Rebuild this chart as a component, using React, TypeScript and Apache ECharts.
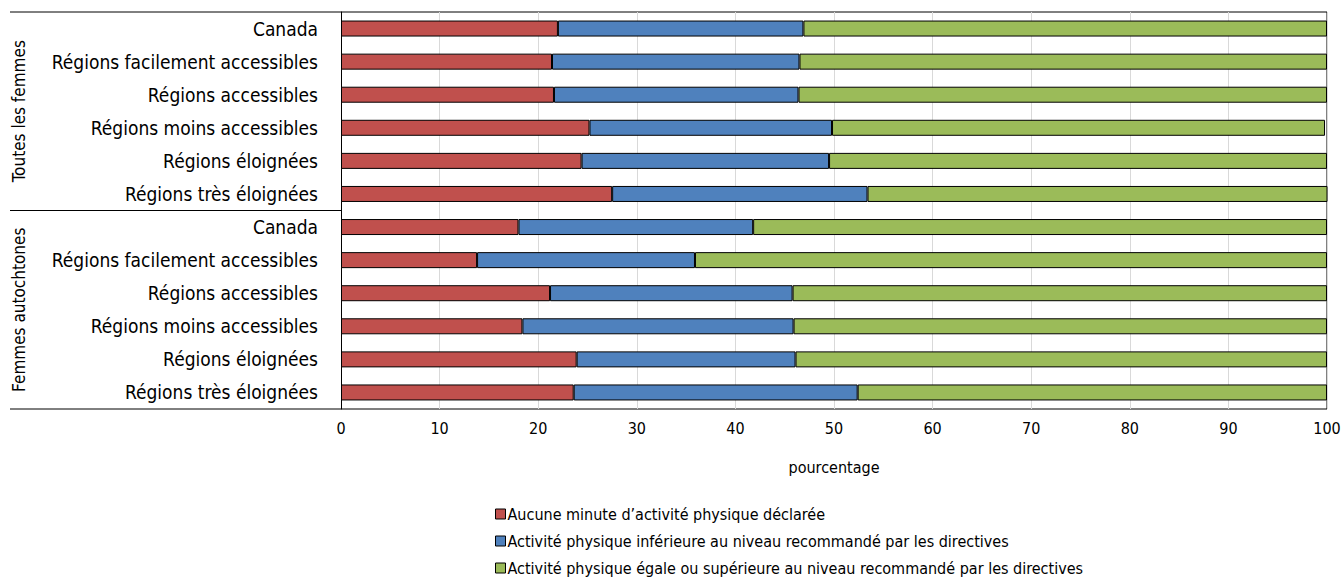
import React, { useEffect, useRef } from "react";
import * as echarts from "echarts";

const categories = [
  "Canada",
  "Régions facilement accessibles",
  "Régions accessibles",
  "Régions moins accessibles",
  "Régions éloignées",
  "Régions très éloignées",
  "Canada",
  "Régions facilement accessibles",
  "Régions accessibles",
  "Régions moins accessibles",
  "Régions éloignées",
  "Régions très éloignées",
];

const groupLabels = ["Toutes les femmes", "Femmes autochtones"];

const seriesNames = [
  "Aucune minute d’activité physique déclarée",
  "Activité physique inférieure au niveau recommandé par les directives",
  "Activité physique égale ou supérieure au niveau recommandé par les directives",
];

const noActivity = [22.0, 21.4, 21.6, 25.2, 24.4, 27.5, 18.0, 13.8, 21.2, 18.4, 23.9, 23.6];
const belowGuidelines = [24.9, 25.1, 24.8, 24.6, 25.1, 25.9, 23.8, 22.1, 24.6, 27.5, 22.2, 28.8];
const meetsGuidelines = [53.1, 53.5, 53.6, 50.0, 50.5, 46.7, 58.2, 64.1, 54.2, 54.1, 53.9, 47.6];

const xTicks = { min: 0, max: 100, interval: 10 };
const xAxisName = "pourcentage";

const colors = ["#C0504D", "#4F81BD", "#9BBB59"];
const FONT = "'DejaVu Sans Condensed', 'Liberation Sans Narrow', Arial, sans-serif";

export default function App() {
  const ref = useRef<HTMLDivElement>(null);

  useEffect(() => {
    if (!ref.current) return;
    const chart = echarts.init(ref.current, undefined, { renderer: "svg" });
    const L = 341, R = 1327, T = 12, B = 409;
    const mid = (T + B) / 2;
    const lineStyle = { stroke: "#000", lineWidth: 1 };
    const dataSets = [noActivity, belowGuidelines, meetsGuidelines];
    chart.setOption({
      animation: false,
      backgroundColor: "#fff",
      textStyle: { fontFamily: FONT },
      grid: { left: L, right: 1344 - R, top: T, bottom: 579 - B, containLabel: false },
      xAxis: {
        type: "value",
        min: xTicks.min,
        max: xTicks.max,
        interval: xTicks.interval,
        name: xAxisName,
        nameLocation: "middle",
        nameGap: 50,
        nameTextStyle: { fontSize: 16, color: "#000", fontFamily: FONT },
        axisLine: { show: false },
        axisTick: { show: false },
        axisLabel: { fontSize: 16, color: "#000", margin: 11, fontFamily: FONT },
        splitLine: { show: true, lineStyle: { color: "#d9d9d9", width: 1 } },
      },
      yAxis: {
        type: "category",
        inverse: true,
        data: categories,
        axisLine: { show: true, lineStyle: { color: "#000", width: 1 } },
        axisTick: { show: false },
        axisLabel: { fontSize: 19, color: "#000", margin: 23, fontFamily: FONT },
        splitLine: { show: false },
      },
      legend: {
        orient: "vertical",
        left: 495,
        top: 505,
        padding: 0,
        itemWidth: 10,
        itemHeight: 10,
        itemGap: 9,
        icon: "rect",
        data: seriesNames,
        textStyle: { fontSize: 16, color: "#000", fontFamily: FONT, lineHeight: 18, padding: [0, 0, 0, -3] },
        itemStyle: { borderColor: "#000", borderWidth: 1 },
      },
      series: seriesNames.map((name, i) => ({
        name,
        type: "bar",
        stack: "total",
        barWidth: 16,
        data: dataSets[i],
        itemStyle: { color: colors[i], borderColor: "#000", borderWidth: 1 },
      })),
      graphic: [
        { type: "line", shape: { x1: 10, y1: T, x2: R, y2: T }, style: lineStyle, silent: true },
        { type: "line", shape: { x1: 10, y1: mid, x2: L, y2: mid }, style: lineStyle, silent: true },
        { type: "line", shape: { x1: 10, y1: B, x2: R, y2: B }, style: lineStyle, silent: true },
        { type: "line", shape: { x1: R, y1: T, x2: R, y2: B }, style: lineStyle, silent: true },
        {
          type: "text",
          x: 19,
          y: (T + mid) / 2,
          rotation: Math.PI / 2,
          style: { text: groupLabels[0], fontSize: 17, fill: "#000", fontFamily: FONT, align: "center", verticalAlign: "middle" },
        },
        {
          type: "text",
          x: 19,
          y: (mid + B) / 2,
          rotation: Math.PI / 2,
          style: { text: groupLabels[1], fontSize: 17, fill: "#000", fontFamily: FONT, align: "center", verticalAlign: "middle" },
        },
      ],
    });
    return () => chart.dispose();
  }, []);

  return <div ref={ref} style={{ position: "fixed", left: 0, top: 0, width: 1344, height: 579 }} />;
}
